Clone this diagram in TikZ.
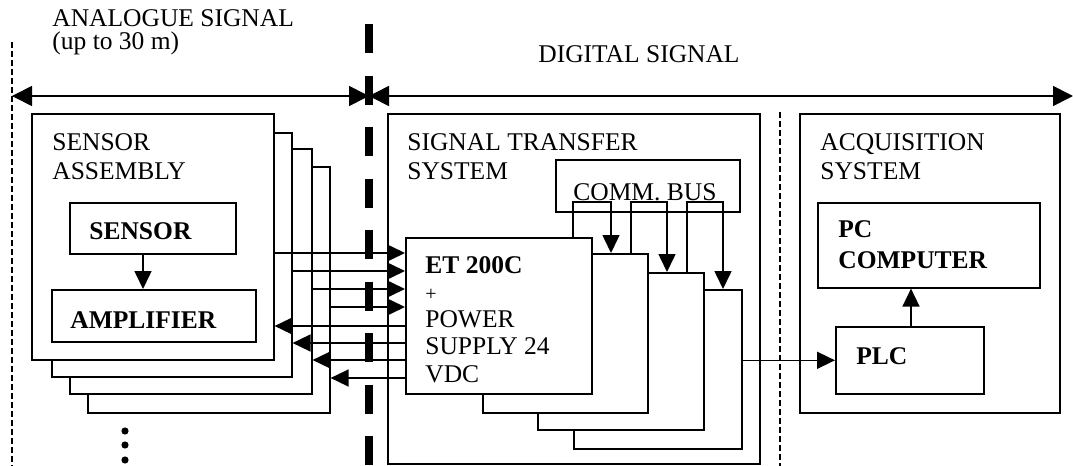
\documentclass[tikz,border=0pt]{standalone}
\usepackage{fontspec}
\setmainfont{Liberation Serif}
\usetikzlibrary{arrows.meta}
\tikzset{
  boxn/.style={rectangle, draw, fill=white, line width=0.8pt, anchor=north west, inner sep=0pt},
  sz/.style 2 args={minimum width=#1*0.5pt, minimum height=#2*0.5pt},
  txtn/.style={anchor=base west, inner sep=0pt, align=left, font=\fontsize{12.75}{14.5}\selectfont},
  bldn/.style={txtn, font=\fontsize{12.75}{14.5}\selectfont\bfseries},
  conn/.style={line width=0.8pt, -{Triangle[length=9pt,width=8.5pt]}},
  span/.style={line width=0.8pt, {Triangle[length=10pt,width=10pt]}-{Triangle[length=10pt,width=10pt]}},
  thindash/.style={line width=1.2pt, dash pattern=on 3pt off 1.5pt},
  thickdash/.style={line width=4pt, dash pattern=on 14.5pt off 11.25pt},
}
\begin{document}
\begin{tikzpicture}[x=0.5pt, y=-0.5pt]
  \useasboundingbox (0,0) rectangle (1073,466);
  % dividers and ranges (multi-line labels sit on their last baseline)
  \draw[thindash] (12,42) -- (12,466);
  \draw[thindash] (780,112) -- (780,466);
  \coordinate (aleft) at (12,96);
  \coordinate (amid) at (369,96);
  \coordinate (aright) at (1073,96);
  \draw[span] (aleft) -- (amid);
  \draw[span] (amid) -- (aright);
  \node[txtn] (lanalog) at (52,49) {ANALOGUE SIGNAL\\[-3pt](up to 30 m)};
  \node[txtn] (ldigital) at (538,62) {DIGITAL SIGNAL};

  % sensor assemblies
  \node[boxn, sz={242}{246}] (sa4) at (87,166) {};
  \node[boxn, sz={242}{245}] (sa3) at (69,148) {};
  \node[boxn, sz={240}{244}] (sa2) at (51,132) {};
  \node[boxn, sz={242}{246}] (sa1) at (31,113) {};
  \node[txtn] (lsa) at (52,179) {SENSOR\\ASSEMBLY};
  \node[boxn, sz={166}{51}] (sensor) at (69,202) {};
  \node[bldn] (lsensor) at (89,239) {SENSOR};
  \node[boxn, sz={204}{52}] (amp) at (51,289) {};
  \node[bldn] (lamp) at (70,328) {AMPLIFIER};
  \foreach \y in {431,445,460}
    \fill (125,\y) circle[radius=1.8pt];

  % signal transfer system
  \node[boxn, sz={372}{350}] (sts) at (387,113) {};
  \node[txtn] (lsts) at (407,179) {SIGNAL TRANSFER\\SYSTEM};
  \node[boxn, sz={184}{52}, fill=none] (bus) at (555,159) {};
  \node[txtn] (lbus) at (573,200) {COMM. BUS};
  \node[boxn, sz={168}{159}] (et4) at (573,289) {};
  \node[boxn, sz={166}{157}] (et3) at (537,272) {};
  \node[boxn, sz={165}{159}] (et2) at (482,253) {};
  \node[boxn, sz={186}{156}] (et1) at (405,237) {};
  \node[txtn, font=\fontsize{12.75}{13.6}\selectfont] (let) at (425,382)
    {\textbf{ET 200C}\\{\fontsize{10}{12}\selectfont +}\\POWER\\SUPPLY 24\\VDC};

  % acquisition system
  \node[boxn, sz={260}{299}] (acq) at (799,113) {};
  \node[txtn] (lacq) at (820,179) {ACQUISITION\\SYSTEM};
  \node[boxn, sz={222}{85}] (pc) at (817,202) {};
  \node[bldn, font=\fontsize{12.75}{15.5}\selectfont\bfseries] (lpc) at (838,268) {PC\\COMPUTER};
  \node[boxn, sz={148}{67}] (plc) at (835,326) {};
  \node[bldn] (lplc) at (856,364) {PLC};

  % connections
  \draw[conn] (sensor.south -| 143,0) -- (amp.north -| 143,0);
  \foreach \k/\y in {1/253,2/271,3/289,4/307}
    \draw[conn] (sa\k.east |- 0,\y) -- (et1.west |- 0,\y);
  \foreach \k/\y in {1/326,2/343,3/360,4/378}
    \draw[conn] (et1.west |- 0,\y) -- (sa\k.east |- 0,\y);
  \foreach \a/\b/\xa/\xb in {1/2/573/611,2/3/631/667,3/4/687/723}
    \draw[conn] (et\a.north -| \xa,0) |- (\xb,202) -- (et\b.north -| \xb,0);
  \draw[conn] (et4.east |- plc.west) -- (plc.west);
  \draw[conn] (plc.north -| 911,0) -- (pc.south -| 911,0);

  \draw[thickdash] (369,24) -- (369,466);
\end{tikzpicture}
\end{document}
